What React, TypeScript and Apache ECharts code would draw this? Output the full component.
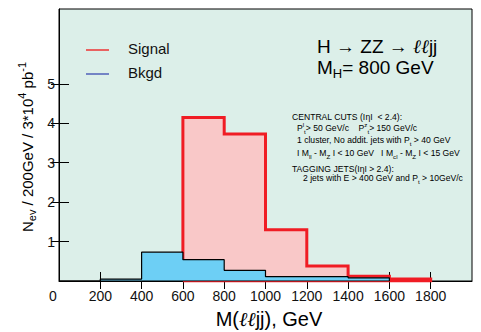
import React, { useEffect, useRef } from "react";
import * as echarts from "echarts";

// ---- data ----
const signalEdges = [600, 800, 1000, 1200, 1400, 1600, 1800];
const signalValues = [4.15, 3.73, 1.3, 0.38, 0.12, 0.05];
const bkgdEdges = [0, 200, 400, 600, 800, 1000, 1200, 1400, 1600];
const bkgdValues = [0, 0.05, 0.73, 0.54, 0.27, 0.11, 0.11, 0.08];
const xLabelValues = [0, 200, 400, 600, 800, 1000, 1200, 1400, 1600, 1800];
const xTickValues = [200, 400, 600, 800, 1000, 1200, 1400, 1600, 1800];
const yTickValues = [1, 2, 3, 4, 5];

const FONT = "'Liberation Sans', Arial, Helvetica, sans-serif";

function histPolygon(edges: number[], values: number[]): number[][] {
  const pts: number[][] = [[edges[0], 0]];
  values.forEach((v, i) => {
    pts.push([edges[i], v]);
    pts.push([edges[i + 1], v]);
  });
  pts.push([edges[edges.length - 1], 0]);
  pts.push([edges[0], 0]);
  return pts;
}

export default function App() {
  const ref = useRef<HTMLDivElement>(null);
  useEffect(() => {
    if (!ref.current) return;
    const chart = echarts.init(ref.current, null, { renderer: "svg" });
    const small = {
      t: { fontSize: 8.6, fontFamily: FONT, color: "#111", lineHeight: 13 },
      sub: { fontSize: 6.2, fontFamily: FONT, color: "#111", verticalAlign: "bottom" },
      sup: { fontSize: 6.2, fontFamily: FONT, color: "#111", verticalAlign: "top" },
    };
    const cutLine = (x: number, y: number, text: string) => ({
      type: "text",
      x,
      y,
      style: { text, rich: small, verticalAlign: "middle", align: "left" },
    });
    const option: any = {
      animation: false,
      grid: {
        left: 59,
        right: 9,
        top: 9,
        height: 272,
        show: true,
        backgroundColor: "#dcefe9",
        borderColor: "#000",
        borderWidth: 1,
      },
      xAxis: [
        {
          type: "value",
          min: 0,
          max: 2000,
          interval: 200,
          position: "bottom",
          splitLine: { show: false },
          axisLine: { show: true, lineStyle: { color: "#000", width: 1 } },
          axisTick: {
            show: true,
            inside: true,
            length: 9,
            customValues: xTickValues,
            lineStyle: { color: "#000" },
          },
          axisLabel: {
            customValues: xLabelValues,
            color: "#111",
            fontSize: 14,
            fontFamily: FONT,
            margin: 8,
            formatter: (v: number) => (v === 0 ? "{z|0}" : String(v)),
            rich: { z: { fontSize: 14, fontFamily: FONT, color: "#111", padding: [0, 12, 0, 0] } },
          },
        },
        {
          type: "value",
          min: 0,
          max: 2000,
          interval: 200,
          position: "top",
          splitLine: { show: false },
          axisLine: { show: false },
          axisTick: {
            show: true,
            inside: true,
            length: 8,
            customValues: xTickValues,
            lineStyle: { color: "#000" },
          },
          axisLabel: { show: false },
        },
      ],
      yAxis: [
        {
          type: "value",
          min: 0,
          max: 6.9,
          interval: 1,
          position: "left",
          splitLine: { show: false },
          axisLine: { show: true, lineStyle: { color: "#000", width: 1 } },
          axisTick: {
            show: true,
            inside: true,
            length: 10,
            customValues: yTickValues,
            lineStyle: { color: "#000" },
          },
          axisLabel: {
            customValues: yTickValues,
            color: "#111",
            fontSize: 14,
            fontFamily: FONT,
            margin: 4,
          },
        },
        {
          type: "value",
          min: 0,
          max: 6.9,
          interval: 1,
          position: "right",
          splitLine: { show: false },
          axisLine: { show: false },
          axisTick: {
            show: true,
            inside: true,
            length: 8,
            customValues: yTickValues,
            lineStyle: { color: "#000" },
          },
          axisLabel: { show: false },
        },
      ],
      series: [
        {
          name: "Signal",
          type: "line",
          data: histPolygon(signalEdges, signalValues),
          symbol: "none",
          z: 2,
          lineStyle: { color: "#f01c24", width: 3, join: "miter" },
          areaStyle: { color: "#f9c8c8", opacity: 1 },
        },
        {
          name: "Bkgd",
          type: "line",
          data: histPolygon(bkgdEdges, bkgdValues),
          symbol: "none",
          z: 3,
          lineStyle: { color: "#000", width: 1.2 },
          areaStyle: { color: "#6dcff5", opacity: 1 },
        },
      ],
      graphic: [
        { type: "line", shape: { x1: 86, y1: 50, x2: 109, y2: 50 }, style: { stroke: "#ee3333", lineWidth: 1.5 } },
        { type: "line", shape: { x1: 86, y1: 74, x2: 109, y2: 74 }, style: { stroke: "#5060b8", lineWidth: 1.5 } },
        { type: "text", x: 128, y: 48, style: { text: "Signal", font: `15px ${FONT}`, fill: "#111", verticalAlign: "middle" } },
        { type: "text", x: 128, y: 72, style: { text: "Bkgd", font: `15px ${FONT}`, fill: "#111", verticalAlign: "middle" } },
        {
          type: "text",
          x: 317,
          y: 46,
          style: {
            text: "{a|H → ZZ → }{l|ℓℓ}{a|jj}",
            verticalAlign: "middle",
            rich: {
              a: { fontSize: 19, fontFamily: FONT, color: "#111" },
              l: { fontSize: 19, fontFamily: "'DejaVu Serif', serif", fontStyle: "italic", color: "#777" },
            },
          },
        },
        {
          type: "text",
          x: 317,
          y: 67,
          style: {
            text: "{a|M}{s|H}{a|= 800 GeV}",
            verticalAlign: "middle",
            rich: {
              a: { fontSize: 19, fontFamily: FONT, color: "#111", lineHeight: 26 },
              s: { fontSize: 13, fontFamily: FONT, color: "#111", verticalAlign: "bottom" },
            },
          },
        },
        cutLine(292, 117, "{t|CENTRAL CUTS (I}{t|η}{t|I  < 2.4):}"),
        cutLine(297, 128, "{t|P}{sup|l}{sub|t}{t|> 50 GeV/c    P}{sup|z}{sub|t}{t|> 150 GeV/c}"),
        cutLine(297, 140, "{t|1 cluster, No addit. jets with P}{sub|t}{t| > 40 GeV}"),
        cutLine(297, 153, "{t|I M}{sub|ll}{t| - M}{sub|Z}{t| I < 10 GeV   I M}{sub|cl}{t| - M}{sub|Z}{t| I < 15 GeV}"),
        cutLine(292, 169, "{t|TAGGING JETS(I}{t|η}{t|I > 2.4):}"),
        cutLine(303, 178, "{t|2 jets with E > 400 GeV and P}{sub|t}{t| > 10GeV/c}"),
        {
          type: "text",
          x: 27,
          y: 147,
          rotation: Math.PI / 2,
          style: {
            text: "{a|N}{s|ev}{a| / 200GeV / 3*10}{p|4}{a| pb}{p|-1}",
            align: "center",
            verticalAlign: "middle",
            rich: {
              a: { fontSize: 15, fontFamily: FONT, color: "#111", lineHeight: 21 },
              s: { fontSize: 11, fontFamily: FONT, color: "#111", verticalAlign: "bottom" },
              p: { fontSize: 11, fontFamily: FONT, color: "#111", verticalAlign: "top" },
            },
          },
        },
        {
          type: "text",
          x: 269,
          y: 319,
          style: {
            text: "{a|M(}{l|ℓℓ}{a|jj), GeV}",
            align: "center",
            verticalAlign: "middle",
            rich: {
              a: { fontSize: 20, fontFamily: FONT, color: "#111" },
              l: { fontSize: 20, fontFamily: "'DejaVu Serif', serif", fontStyle: "italic", color: "#777" },
            },
          },
        },
      ],
    };
    chart.setOption(option);
    return () => chart.dispose();
  }, []);
  return (
    <div
      ref={ref}
      style={{ position: "fixed", left: 0, top: 0, width: 481, height: 332, background: "#fff" }}
    />
  );
}
